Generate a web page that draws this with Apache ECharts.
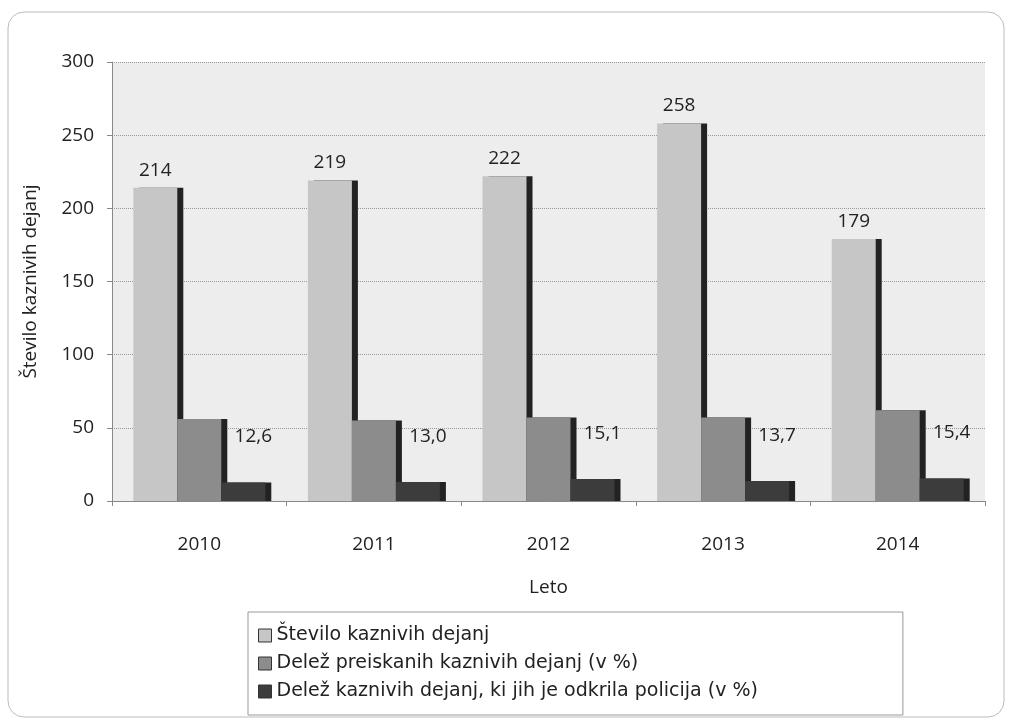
<!DOCTYPE html>
<html>
<head>
<meta charset="utf-8">
<script src="https://cdn.jsdelivr.net/npm/echarts@6/dist/echarts.min.js"></script>
<style>
html, body { margin: 0; padding: 0; background: #fff; }
#chart { width: 1011px; height: 722px; }
</style>
</head>
<body>
<div id="chart"></div>
<script>
var years = ['2010', '2011', '2012', '2013', '2014'];
var stevilo = [214, 219, 222, 258, 179];
var preiskanih = [56, 55, 57, 57, 62];
var policija = [12.6, 13.0, 15.1, 13.7, 15.4];
var yTicks = [0, 50, 100, 150, 200, 250, 300];

var font = 'Open Sans';
var chart = echarts.init(document.getElementById('chart'));

// temna senca na desni strani stolpca (namesto 3D globine)
function barStyle(color) {
    return {
        color: color,
        borderWidth: 0,
        shadowColor: '#222',
        shadowBlur: 0,
        shadowOffsetX: 6,
        shadowOffsetY: 0
    };
}

var option = {
    animation: false,
    textStyle: { fontFamily: font },
    graphic: [{
        type: 'rect',
        shape: { x: 8, y: 12, width: 996, height: 705, r: 16 },
        style: { fill: 'none', stroke: '#bbb', lineWidth: 1 },
        z: -1
    }],
    grid: {
        left: 112, right: 26, top: 62, bottom: 221,
        show: true,
        backgroundColor: '#ededed',
        borderWidth: 0
    },
    legend: {
        orient: 'vertical',
        left: 248, top: 612,
        itemGap: 9,
        itemWidth: 13, itemHeight: 13,
        padding: [14, 145, 14, 10],
        borderColor: '#999',
        borderWidth: 1,
        icon: 'rect',
        itemStyle: { borderColor: '#333', borderWidth: 1, shadowOffsetX: 0, shadowColor: 'transparent' },
        textStyle: { fontSize: 19, color: '#222', fontFamily: 'DejaVu Sans' },
        data: ['Število kaznivih dejanj', 'Delež preiskanih kaznivih dejanj (v %)', 'Delež kaznivih dejanj, ki jih je odkrila policija (v %)']
    },
    xAxis: {
        type: 'category',
        data: years,
        name: 'Leto',
        nameLocation: 'middle',
        nameGap: 77,
        nameTextStyle: { fontSize: 19, color: '#222' },
        axisLine: { lineStyle: { color: '#888' } },
        axisTick: { show: true, lineStyle: { color: '#888' } },
        axisLabel: { fontSize: 19, color: '#222', margin: 34 }
    },
    yAxis: {
        type: 'value',
        min: yTicks[0],
        max: yTicks[yTicks.length - 1],
        interval: 50,
        name: 'Število kaznivih dejanj',
        nameLocation: 'middle',
        nameGap: 72,
        nameTextStyle: { fontSize: 19, color: '#222' },
        axisLine: { show: true, lineStyle: { color: '#888' } },
        axisTick: { show: true, lineStyle: { color: '#888' } },
        axisLabel: { fontSize: 19, color: '#222', margin: 18 },
        splitLine: { show: true, lineStyle: { color: '#999', type: 'dotted' } }
    },
    series: [{
        type: 'bar',
        name: 'Število kaznivih dejanj',
        data: stevilo,
        barWidth: 44,
        barGap: '0%',
        itemStyle: barStyle('#c6c6c6'),
        label: { show: true, position: 'top', distance: 8, fontSize: 19, color: '#222' }
    }, {
        type: 'bar',
        name: 'Delež preiskanih kaznivih dejanj (v %)',
        data: preiskanih,
        barWidth: 44,
        barGap: '0%',
        itemStyle: barStyle('#8c8c8c')
    }, {
        type: 'bar',
        name: 'Delež kaznivih dejanj, ki jih je odkrila policija (v %)',
        data: policija,
        barWidth: 44,
        barGap: '0%',
        itemStyle: barStyle('#3c3c3c'),
        label: {
            show: true, position: 'top', distance: 36, offset: [10, 0],
            fontSize: 19, color: '#222',
            formatter: function (p) { return p.value.toFixed(1).replace('.', ','); }
        }
    }]
};
chart.setOption(option);
window.addEventListener('resize', function () { chart.resize(); });
</script>
</body>
</html>
